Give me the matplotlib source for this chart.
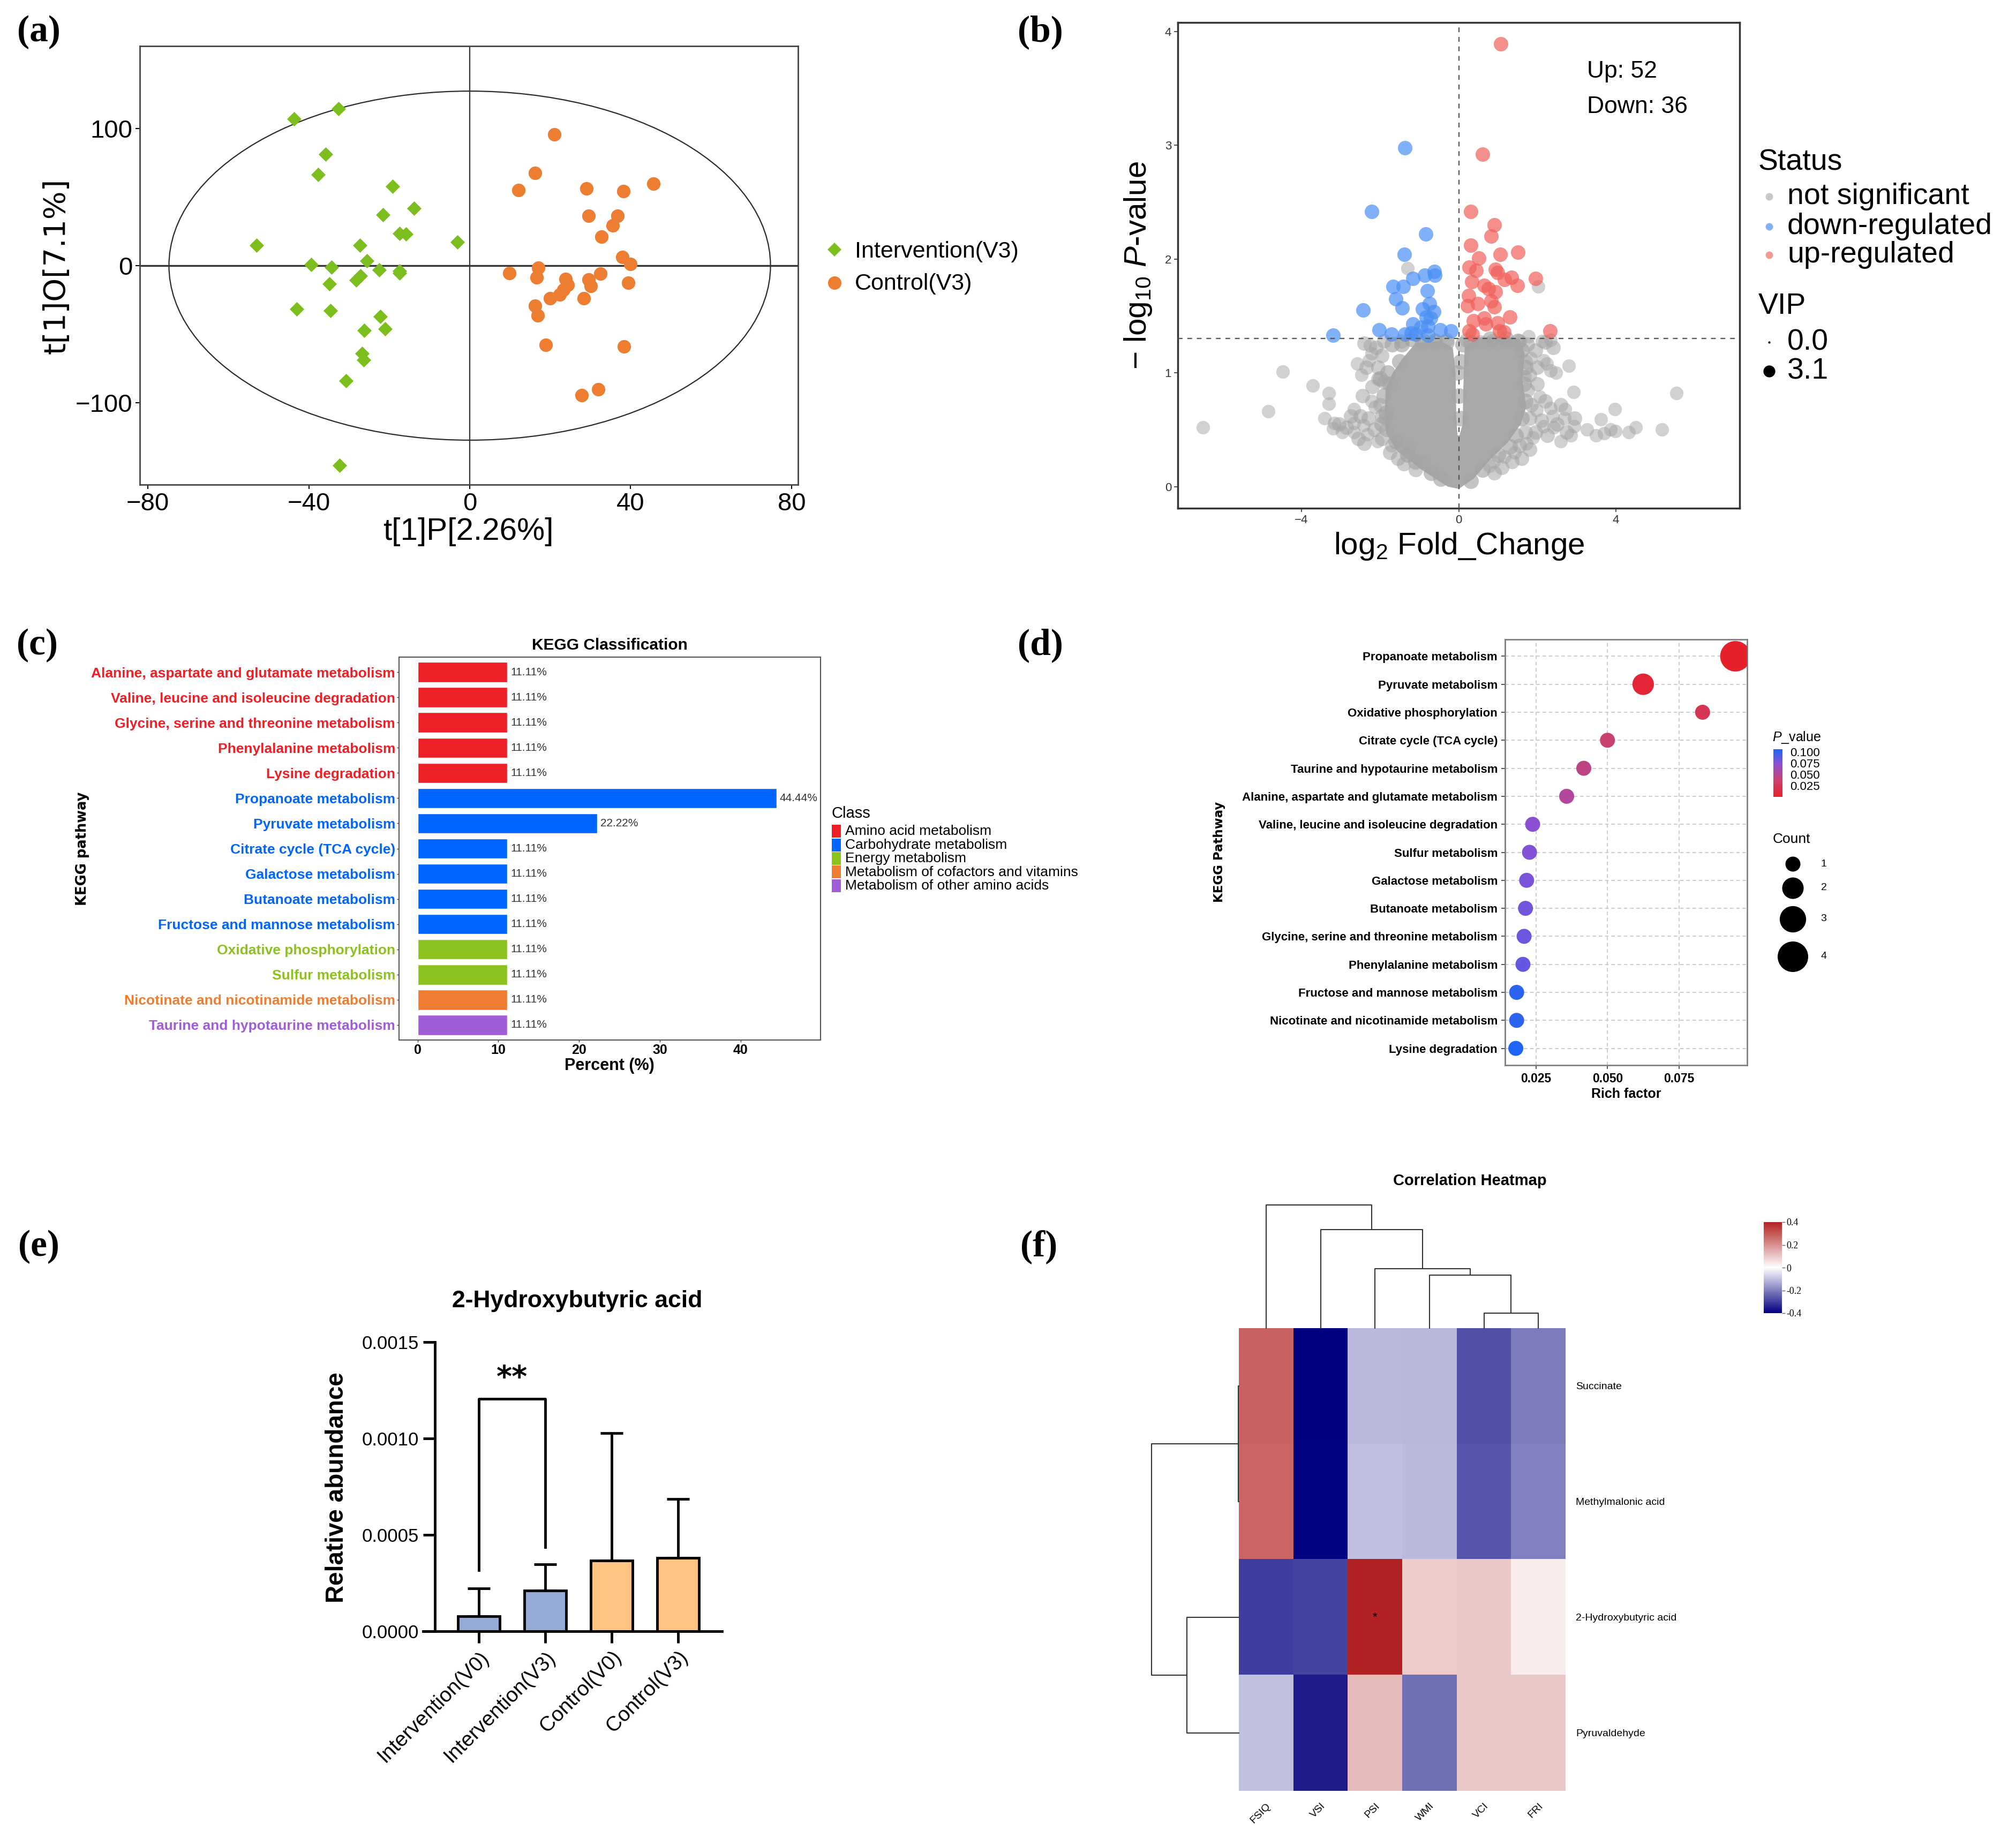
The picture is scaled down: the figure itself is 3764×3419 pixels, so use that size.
import numpy as np
import matplotlib.pyplot as plt
from matplotlib.colors import LinearSegmentedColormap, Normalize
from matplotlib.colorbar import ColorbarBase
from matplotlib.lines import Line2D
from matplotlib.patches import Ellipse, Rectangle

plt.rcParams['font.family'] = ['Liberation Sans', 'DejaVu Sans']
plt.rcParams['mathtext.fontset'] = 'custom'
plt.rcParams['mathtext.rm'] = 'Liberation Sans'
plt.rcParams['mathtext.it'] = 'Liberation Sans:italic'

W, H = 3764, 3419

"""
Data
"""
# (a) OPLS-DA scores
intv_x = [-43.7, -32.6, -35.8, -37.7, -19.2, -21.5, -13.9, -17.4, -15.9, -3.1, -53.0, -27.3, -25.5, -39.4, -34.3,
          -22.5, -17.5, -17.5, -27.2, -28.2, -34.9, -43.0, -34.6, -22.2, -26.2, -21.0, -26.7, -26.3, -30.8, -32.3]
intv_y = [107.0, 114.3, 81.2, 66.2, 57.8, 37.0, 41.8, 23.4, 22.9, 17.3, 14.7, 14.7, 3.4, 0.8, -1.3,
          -3.2, -3.9, -5.5, -7.4, -10.5, -13.4, -31.8, -32.9, -37.1, -47.3, -46.0, -63.9, -68.6, -83.8, -145.6]
ctrl_x = [21.0, 16.2, 12.1, 29.0, 38.2, 45.7, 29.5, 36.8, 35.6, 32.8, 37.9, 39.9, 9.9, 17.1, 16.6, 23.8,
          24.3, 23.3, 22.4, 20.0, 29.5, 30.1, 32.5, 28.3, 39.4, 16.2, 16.9, 18.9, 38.4, 32.0, 27.8]
ctrl_y = [95.7, 67.5, 54.9, 56.2, 54.4, 59.9, 36.5, 36.5, 29.4, 21.0, 6.3, 1.3, -5.3, -1.6, -8.7, -9.7,
          -13.9, -17.6, -21.0, -23.9, -10.0, -14.7, -6.0, -23.7, -12.4, -29.2, -36.3, -57.6, -59.1, -90.1, -94.6]

# (b) volcano
down_x = [-1.37, -2.22, -0.84, -1.39, -0.62, -0.60, -0.86, -1.17, -1.67, -1.41, -0.80, -1.60, -1.44, -0.74, -0.92, -0.64,
          -0.83, -0.71, -2.44, -2.02, -1.17, -0.96, -0.78, -0.47, -0.20, -3.19, -1.71, -1.37, -1.21, -1.10, -0.79]
down_y = [2.98, 2.42, 2.22, 2.04, 1.89, 1.86, 1.86, 1.83, 1.76, 1.76, 1.72, 1.65, 1.57, 1.61, 1.56, 1.54,
          1.49, 1.48, 1.55, 1.38, 1.43, 1.40, 1.41, 1.38, 1.37, 1.33, 1.34, 1.34, 1.35, 1.34, 1.33]
up_x = [1.07, 0.61, 0.30, 0.91, 0.83, 0.30, 1.06, 1.50, 0.51, 0.26, 0.44, 0.94, 0.99, 1.34, 1.17, 1.49, 1.95, 0.33,
        0.65, 0.76, 0.94, 0.25, 0.48, 0.22, 0.83, 0.90, 0.65, 0.38, 1.30, 0.69, 0.99, 0.26, 0.35, 1.04, 1.15, 2.33]
up_y = [3.89, 2.92, 2.42, 2.30, 2.20, 2.12, 2.04, 2.06, 2.01, 1.93, 1.90, 1.91, 1.88, 1.84, 1.82, 1.77, 1.83, 1.80,
        1.77, 1.74, 1.71, 1.68, 1.61, 1.59, 1.63, 1.58, 1.48, 1.46, 1.49, 1.43, 1.44, 1.37, 1.34, 1.37, 1.36, 1.37]
ns_x = [-6.51, -4.84, -4.48, -3.71, -3.31, -3.31, -3.42, -3.17, -3.20, -2.97, -2.67, -2.67, -2.67, -2.42,
        -2.33, -2.07, -2.22, -2.14, -2.58, -2.47, -2.29, -2.25, -2.22, -2.06, -1.87, -1.71, -1.26, -0.89,
        5.54, 5.17, 4.50, 4.33, 3.97, 3.99, 3.86, 3.70, 3.49, 3.26, 3.62, 2.92, 2.94, 2.80, 2.71, 2.69, 2.60,
        2.85, 2.48, 2.34, 2.34, 2.39, 2.42, 2.16, 2.24, 2.16, 2.07, 1.89, 1.84, 1.78, 2.12, 2.34, 1.69, 1.98,
        1.72, 1.43, 1.16, 0.79, 0.89, -1.30, 2.03]
ns_y = [0.52, 0.66, 1.01, 0.89, 0.82, 0.73, 0.60, 0.56, 0.51, 0.48, 0.68, 0.56, 0.48, 0.54,
        0.46, 0.40, 0.75, 0.70, 1.08, 0.98, 1.11, 1.24, 1.17, 0.95, 0.60, 0.36, 0.34, 0.22,
        0.82, 0.50, 0.52, 0.48, 0.68, 0.49, 0.50, 0.47, 0.45, 0.50, 0.59, 0.83, 0.53, 1.06, 0.68, 0.60, 0.40,
        0.45, 1.00, 1.02, 0.69, 0.62, 0.52, 1.11, 1.08, 0.53, 0.79, 0.43, 1.13, 1.32, 1.28, 1.29, 0.97, 0.67,
        0.38, 0.30, 0.26, 0.18, 0.22, 1.92, 1.76]
band_x = [-2.40, -2.10, -1.95, -2.35, -2.05, -1.90, -2.20, -2.45, -2.00, -1.95, -2.30, -2.50, -1.85, -2.15,
          -1.95, -1.75, -1.55, -1.40, -1.10, -2.75, -2.85, -3.05, -2.55, -2.40,
          1.75, 1.95, 1.70, 2.00, 1.80, 1.75, 2.00, 1.85, 2.20, 1.80, 2.10, 1.70, 1.95, 2.25,
          1.55, 1.80, 1.35, 1.10, 2.50, 2.60, 2.75, 2.95, 1.60, 0.90,
          -0.30, -0.60, -0.95, -1.45, -1.90, 0.20, 0.55, 0.85, 1.20, 1.55, 2.20, 2.40]
band_y = [1.26, 1.22, 1.15, 1.05, 1.05, 0.92, 0.88, 0.80, 0.72, 0.62, 0.60, 0.62, 0.50, 0.50,
          0.42, 0.30, 0.25, 0.20, 0.15, 0.62, 0.52, 0.55, 0.42, 0.38,
          1.25, 1.20, 1.10, 1.05, 0.98, 0.85, 0.90, 0.72, 0.75, 0.60, 0.58, 0.48, 0.48, 0.45,
          0.36, 0.33, 0.22, 0.17, 0.55, 0.72, 0.48, 0.60, 0.25, 0.12,
          1.29, 1.27, 1.27, 1.28, 1.28, 1.29, 1.27, 1.28, 1.27, 1.28, 1.27, 1.22]
edge_x = [-1.75, -1.90, -1.85, -1.95, -1.60, -1.30, -1.10, -0.70, -0.45, -1.50, -1.80, -2.00, -1.20, -0.90,
          -0.60, -0.30, -1.45, -1.70, 1.60, 1.70, 1.65, 1.70, 1.60, 1.45, 1.30, 1.00, 0.60, 0.30, 1.50, 1.20,
          0.80, 0.30, 0.10, 0.00, -0.02, 0.03, 0.05]
edge_y = [0.90, 0.80, 0.65, 0.55, 0.40, 0.28, 0.22, 0.12, 0.07, 1.10, 1.00, 0.95, 1.30, 1.28,
          1.28, 1.27, 1.25, 1.25, 1.20, 1.05, 0.90, 0.75, 0.60, 0.45, 0.35, 0.28, 0.15, 0.05, 1.28, 1.30,
          1.30, 1.27, 1.25, 0.80, 1.00, 0.60, 1.10]
# outline of the dense non-significant core
core_x = [0.0, 0.38, 0.78, 1.25, 1.58, 1.72, 1.62, 1.68, 1.55, 1.00, 0.45, 0.15, 0.12, 0.10, 0.02, -0.03,
          -0.06, -0.08, -0.15, -0.45, -1.10, -1.42, -1.68, -1.86, -1.88, -1.85, -1.56, -0.95, -0.28]
core_y = [-0.02, 0.07, 0.23, 0.39, 0.55, 0.70, 0.94, 1.17, 1.30, 1.32, 1.31, 1.22, 0.90, 0.55, 0.45, 0.45,
          0.60, 1.00, 1.22, 1.28, 1.26, 1.13, 1.00, 0.86, 0.62, 0.47, 0.31, 0.15, 0.0]
n_up, n_down = 52, 36

# (c) KEGG classification
kegg_paths = ['Alanine, aspartate and glutamate metabolism', 'Valine, leucine and isoleucine degradation',
              'Glycine, serine and threonine metabolism', 'Phenylalanine metabolism', 'Lysine degradation',
              'Propanoate metabolism', 'Pyruvate metabolism', 'Citrate cycle (TCA cycle)',
              'Galactose metabolism', 'Butanoate metabolism', 'Fructose and mannose metabolism',
              'Oxidative phosphorylation', 'Sulfur metabolism', 'Nicotinate and nicotinamide metabolism',
              'Taurine and hypotaurine metabolism']
kegg_pct = [11.11, 11.11, 11.11, 11.11, 11.11, 44.44, 22.22, 11.11, 11.11, 11.11, 11.11, 11.11, 11.11, 11.11, 11.11]
kegg_class = [0, 0, 0, 0, 0, 1, 1, 1, 1, 1, 1, 2, 2, 3, 4]
class_names = ['Amino acid metabolism', 'Carbohydrate metabolism', 'Energy metabolism',
               'Metabolism of cofactors and vitamins', 'Metabolism of other amino acids']
class_colors = ['#EE2027', '#0066FF', '#8CC21E', '#EE7D31', '#A15CD8']

# (d) enrichment
enr_paths = ['Propanoate metabolism', 'Pyruvate metabolism', 'Oxidative phosphorylation', 'Citrate cycle (TCA cycle)',
             'Taurine and hypotaurine metabolism', 'Alanine, aspartate and glutamate metabolism',
             'Valine, leucine and isoleucine degradation', 'Sulfur metabolism', 'Galactose metabolism',
             'Butanoate metabolism', 'Glycine, serine and threonine metabolism', 'Phenylalanine metabolism',
             'Fructose and mannose metabolism', 'Nicotinate and nicotinamide metabolism', 'Lysine degradation']
rich_factor = [0.0948, 0.0625, 0.0833, 0.0500, 0.0417, 0.0357, 0.0238, 0.0227, 0.0217, 0.0213, 0.0208, 0.0204,
               0.0182, 0.0182, 0.0179]
enr_count = [4, 2, 1, 1, 1, 1, 1, 1, 1, 1, 1, 1, 1, 1, 1]
enr_p = [0.001, 0.006, 0.022, 0.037, 0.045, 0.053, 0.074, 0.076, 0.079, 0.081, 0.083, 0.085, 0.101, 0.101, 0.105]

# (e) 2-hydroxybutyric acid
groups = ['Intervention(V0)', 'Intervention(V3)', 'Control(V0)', 'Control(V3)']
abund_mean = [7.9e-5, 2.125e-4, 3.67e-4, 3.81e-4]
abund_sd = [1.44e-4, 1.355e-4, 6.60e-4, 3.04e-4]
group_colors = ['#96AAD6', '#96AAD6', '#FFC381', '#FFC381']

# (f) correlation heatmap
metabolites = ['Succinate', 'Methylmalonic acid', '2-Hydroxybutyric acid', 'Pyruvaldehyde']
indices = ['FSIQ', 'VSI', 'PSI', 'WMI', 'VCI', 'FRI']
corr_succ = [0.29, -0.41, -0.11, -0.115, -0.28, -0.21]
corr_meth = [0.285, -0.405, -0.105, -0.11, -0.275, -0.205]
corr_2hb = [-0.31, -0.30, 0.41, 0.095, 0.10, 0.035]
corr_pyr = [-0.10, -0.365, 0.125, -0.23, 0.10, 0.10]
col_merge_a = [4, 3, 2, 1, 0]
col_merge_b = [5, 6, 7, 8, 9]
col_merge_h = [28.5, 99.3, 110.7, 184.7, 230.3]
row_merge_a = [0, 2, 4]
row_merge_b = [1, 3, 5]
row_merge_h = [1.5, 97.5, 163.0]


"""
Helpers
"""
def fbox(x0, y0, x1, y1):
    # pixel box, origin top-left -> figure rect
    return [x0 / W, 1 - y1 / H, (x1 - x0) / W, (y1 - y0) / H]


def ftext(x, y, s, **kw):
    kw.setdefault('ha', 'center')
    kw.setdefault('va', 'center')
    return fig.text(x / W, 1 - y / H, s, **kw)


def fmark(x, y, **kw):
    fig.add_artist(Line2D([x / W], [1 - y / H], transform=fig.transFigure, ls='none', **kw))


def draw_dendro(ax, ma, mb, mh, n, side):
    pos = {i: float(i) for i in range(n)}
    hgt = {i: 0.0 for i in range(n)}
    for k in range(len(ma)):
        a, b, h = ma[k], mb[k], mh[k]
        xs = [pos[a], pos[a], pos[b], pos[b]]
        ys = [hgt[a], h, h, hgt[b]]
        if side == 'top':
            ax.plot(xs, ys, color='#333333', lw=1.5, clip_on=False)
        else:
            ax.plot(ys, xs, color='#333333', lw=1.5, clip_on=False)
        pos[n + k] = (pos[a] + pos[b]) / 2.0
        hgt[n + k] = h


fig = plt.figure(figsize=(W / 100, H / 100), dpi=100)

"""
(a)
"""
ax_a = fig.add_axes(fbox(261, 86, 1490, 905))
ax_a.add_patch(Ellipse((0, 0), 149.5, 254.5, fill=False, ec='#2b2b2b', lw=1.6))
ax_a.axhline(0, color='#333333', lw=2.4)
ax_a.axvline(0, color='#333333', lw=1.6)
ax_a.scatter(intv_x, intv_y, marker='D', s=190, color='#7DBE1F', lw=0, zorder=3)
ax_a.scatter(ctrl_x, ctrl_y, marker='o', s=330, color='#ED7D31', lw=0, zorder=3)
ax_a.set_xlim(-82, 81.6)
ax_a.set_ylim(-159.7, 160.1)
ax_a.set_xticks([-80, -40, 0, 40, 80])
ax_a.set_yticks([-100, 0, 100])
ax_a.tick_params(labelsize=34, length=6, width=1.5, pad=4)
for sp in ax_a.spines.values():
    sp.set_linewidth(2)
    sp.set_color('#444444')
ftext(874, 993, 't[1]P[2.26%]', fontsize=42)
ftext(106, 497, 't[1]O[7.1%]', fontsize=40, rotation=90, family='DejaVu Sans')
fmark(1558, 466, marker='D', ms=13, color='#7DBE1F', mew=0)
fmark(1558, 528, marker='o', ms=18, color='#ED7D31', mew=0)
ftext(1596, 470, 'Intervention(V3)', fontsize=31, ha='left')
ftext(1596, 530, 'Control(V3)', fontsize=31, ha='left')

"""
(b)
"""
ax_b = fig.add_axes(fbox(2199, 42, 3248, 949))
ax_b.fill(core_x, core_y, color='#A9A9A9', lw=0, zorder=1)
ax_b.scatter(edge_x, edge_y, s=440, color='#A4A4A4', alpha=0.65, lw=0, zorder=2)
ax_b.scatter(band_x, band_y, s=380, color='#A4A4A4', alpha=0.55, lw=0, zorder=2)
ax_b.scatter(ns_x, ns_y, s=330, color='#A4A4A4', alpha=0.5, lw=0, zorder=2)
ax_b.scatter(down_x, down_y, s=380, color='#4A8FF5', alpha=0.7, lw=0, zorder=3)
ax_b.scatter(up_x, up_y, s=380, color='#F0605A', alpha=0.7, lw=0, zorder=3)
ax_b.axvline(0, ls=(0, (4, 4)), color='#555555', lw=1.6, zorder=4)
ax_b.axhline(-np.log10(0.05), ls=(0, (4, 4)), color='#555555', lw=1.6, zorder=4)
ax_b.text(3.26, 3.65, 'Up: %d' % n_up, fontsize=32, va='center')
ax_b.text(3.26, 3.34, 'Down: %d' % n_down, fontsize=32, va='center')
ax_b.set_xlim(-7.15, 7.15)
ax_b.set_ylim(-0.19, 4.08)
ax_b.set_xticks([-4, 0, 4])
ax_b.set_yticks([0, 1, 2, 3, 4])
ax_b.tick_params(labelsize=16, length=5, width=1.2, colors='#333333')
for sp in ax_b.spines.values():
    sp.set_linewidth(2.5)
    sp.set_color('#333333')
ftext(2724, 1020, 'log$_2$ Fold_Change', fontsize=42)
ftext(2125, 495, r'$-$ log$_{10}$ $\it{P}$-value', fontsize=42, rotation=90)
ftext(3283, 303, 'Status', fontsize=40, ha='left')
for yy, cc, tt in zip([367, 423, 476], ['#C8C8C8', '#7FB0F8', '#F49A95'],
                      ['not significant', 'down-regulated', 'up-regulated']):
    fmark(3303, yy, marker='o', ms=10, color=cc, mew=0)
    ftext(3337, yy, tt, fontsize=40, ha='left')
ftext(3283, 572, 'VIP', fontsize=40, ha='left')
fmark(3303, 639, marker='o', ms=3, color='black', mew=0)
fmark(3303, 693, marker='o', ms=16, color='black', mew=0)
ftext(3337, 639, '0.0', fontsize=40, ha='left')
ftext(3337, 693, '3.1', fontsize=40, ha='left')

"""
(c)
"""
ax_c = fig.add_axes(fbox(745, 1227, 1532, 1942))
yc = np.arange(len(kegg_paths))
bar_cols = [class_colors[k] for k in kegg_class]
ax_c.barh(yc, kegg_pct, height=0.8, color=bar_cols, edgecolor='white', lw=1)
for i in range(len(kegg_pct)):
    ax_c.text(kegg_pct[i] + 0.4, yc[i], '%.2f%%' % kegg_pct[i], fontsize=15, va='center', color='#333333')
ax_c.set_ylim(len(kegg_paths) - 0.4, -0.6)
ax_c.set_xlim(-2.3, 49.9)
ax_c.set_yticks(yc)
ax_c.set_yticklabels(kegg_paths, fontsize=19, fontweight='bold')
for lbl, cc in zip(ax_c.get_yticklabels(), bar_cols):
    lbl.set_color(cc)
ax_c.set_xticks([0, 10, 20, 30, 40])
ax_c.set_xticklabels(['0', '10', '20', '30', '40'], fontsize=18, fontweight='bold')
ax_c.tick_params(length=3, width=1, pad=2, color='#333333')
for sp in ax_c.spines.values():
    sp.set_linewidth(1.5)
    sp.set_color('#555555')
ftext(1138, 1205, 'KEGG Classification', fontsize=21.5, fontweight='bold')
ftext(1138, 1990, 'Percent (%)', fontsize=22, fontweight='bold')
ftext(154, 1585, 'KEGG pathway', fontsize=18.5, fontweight='bold', rotation=90, family='DejaVu Sans')
ftext(1553, 1519, 'Class', fontsize=21, ha='left')
for k in range(len(class_names)):
    yy = 1552 + 25.5 * k
    fig.add_artist(Rectangle(((1553) / W, 1 - (yy + 12) / H), 17 / W, 24 / H,
                             transform=fig.transFigure, color=class_colors[k], lw=0))
    ftext(1578, yy, class_names[k], fontsize=19, ha='left')

"""
(d)
"""
p_cmap = LinearSegmentedColormap.from_list('pv', [(0.0, '#E8202A'), (0.35, '#C8426E'), (0.5, '#B2479A'),
                                                  (0.7, '#8A50D4'), (1.0, '#1A66F5')])
p_norm = Normalize(0.0, 0.106)


def count_size(c):
    return 0.5184 * (784 + 822 * (np.asarray(c) - 1))


ax_d = fig.add_axes(fbox(2810, 1194, 3262, 1989))
yd = np.arange(len(enr_paths))
ax_d.scatter(rich_factor, yd, s=count_size(enr_count), c=enr_p, cmap=p_cmap, norm=p_norm, lw=0, zorder=3)
ax_d.set_xlim(0.01413, 0.0989)
ax_d.set_ylim(len(enr_paths) - 0.4, -0.6)
ax_d.set_yticks(yd)
ax_d.set_yticklabels(enr_paths, fontsize=16, fontweight='bold')
ax_d.set_xticks([0.025, 0.050, 0.075])
ax_d.set_xticklabels(['0.025', '0.050', '0.075'], fontsize=16.5, fontweight='bold')
ax_d.tick_params(length=5, width=1.2, pad=5, color='#333333')
ax_d.grid(True, ls=(0, (4, 3)), color='#C4C4C4', lw=1.2, zorder=0)
ax_d.set_axisbelow(True)
for sp in ax_d.spines.values():
    sp.set_linewidth(2)
    sp.set_color('#808080')
ftext(3036, 2043, 'Rich factor', fontsize=18, fontweight='bold')
ftext(2277, 1591, 'KEGG Pathway', fontsize=16.5, fontweight='bold', rotation=90, family='DejaVu Sans')
ftext(3309, 1377, r'$\it{P}$_value', fontsize=18, ha='left')
cax_d = fig.add_axes(fbox(3311, 1399, 3328, 1488))
cb_d = ColorbarBase(cax_d, cmap=p_cmap, norm=p_norm, ticks=[0.025, 0.050, 0.075, 0.100])
cb_d.outline.set_visible(False)
cax_d.set_yticklabels(['0.025', '0.050', '0.075', '0.100'])
cax_d.tick_params(length=0, labelsize=16, pad=10)
ftext(3310, 1567, 'Count', fontsize=19, ha='left')
for c_val, yy in zip([1, 2, 3, 4], [1613, 1658, 1716, 1786]):
    fmark(3347, yy, marker='o', ms=np.sqrt(count_size(c_val)), color='black', mew=0)
    ftext(3405, yy, str(c_val), fontsize=14, ha='center')

"""
(e)
"""
ax_e = fig.add_axes(fbox(790, 2506, 1348, 3046))
xe = np.arange(len(groups))
ax_e.bar(xe, abund_mean, width=0.63, color=group_colors, edgecolor='black', lw=3.5, zorder=2)
ax_e.errorbar(xe, abund_mean, yerr=[np.zeros(len(xe)), abund_sd], fmt='none', ecolor='black',
              elinewidth=3.5, capsize=15, capthick=3.5, zorder=1)
ax_e.plot([0, 0, 1, 1], [3.17e-4, 1.206e-3, 1.206e-3, 4.35e-4], color='black', lw=3.5)
ax_e.text(0.5, 1.235e-3, '**', fontsize=40, fontweight='bold', ha='center', va='bottom', family='DejaVu Sans')
ax_e.set_xlim(-0.84, 3.66)
ax_e.set_ylim(0, 0.0015)
ax_e.spines['top'].set_visible(False)
ax_e.spines['right'].set_visible(False)
ax_e.spines['left'].set_position(('data', -0.66))
for sp in ['left', 'bottom']:
    ax_e.spines[sp].set_linewidth(3.5)
ax_e.set_yticks([0, 0.0005, 0.0010, 0.0015])
ax_e.set_yticklabels(['0.0000', '0.0005', '0.0010', '0.0015'], fontsize=25)
ax_e.set_xticks(xe)
ax_e.set_xticklabels(groups, fontsize=28, rotation=45, ha='right', rotation_mode='anchor')
ax_e.tick_params(length=16, width=3.5, pad=6)
ftext(1078, 2430, '2-Hydroxybutyric acid', fontsize=32, fontweight='bold')
ftext(629, 2778, 'Relative abundance', fontsize=33, fontweight='bold', rotation=90)

"""
(f)
"""
corr = np.array([corr_succ, corr_meth, corr_2hb, corr_pyr])
hm_cmap = LinearSegmentedColormap.from_list('hm', ['#000080', '#FFFFFF', '#B22222'])
hm_norm = Normalize(-0.41, 0.41)
ax_f = fig.add_axes(fbox(2313, 2480, 2923, 3344))
ax_f.imshow(corr, cmap=hm_cmap, norm=hm_norm, aspect='auto', interpolation='nearest',
            extent=(-0.5, 5.5, 3.5, -0.5))
ax_f.text(2, 2, '*', fontsize=16, ha='center', va='center')
ax_f.set_xticks(np.arange(len(indices)))
ax_f.set_xticklabels(indices, fontsize=14, rotation=45, ha='right', rotation_mode='anchor')
ax_f.set_yticks(np.arange(len(metabolites)))
ax_f.set_yticklabels(metabolites, fontsize=14)
ax_f.yaxis.tick_right()
ax_f.tick_params(length=0, pad=14)
for sp in ax_f.spines.values():
    sp.set_visible(False)

ax_fc = fig.add_axes(fbox(2313, 2250, 2923, 2480))
draw_dendro(ax_fc, col_merge_a, col_merge_b, col_merge_h, len(indices), 'top')
ax_fc.set_xlim(-0.5, 5.5)
ax_fc.set_ylim(0, 230.3)
ax_fc.axis('off')

ax_fr = fig.add_axes(fbox(2150, 2480, 2313, 3344))
draw_dendro(ax_fr, row_merge_a, row_merge_b, row_merge_h, len(metabolites), 'left')
ax_fr.set_xlim(163.0, 0)
ax_fr.set_ylim(3.5, -0.5)
ax_fr.axis('off')

cax_f = fig.add_axes(fbox(3293, 2282, 3327, 2452))
cb_f = ColorbarBase(cax_f, cmap=hm_cmap, norm=Normalize(-0.4, 0.4), ticks=[-0.4, -0.2, 0, 0.2, 0.4])
cb_f.outline.set_visible(False)
cax_f.set_yticklabels(['-0.4', '-0.2', '0', '0.2', '0.4'], family='Liberation Serif')
cax_f.tick_params(length=4, width=1, labelsize=13, pad=2, color='#666666')
ftext(2744, 2205, 'Correlation Heatmap', fontsize=21, fontweight='bold')

"""
Panel tags
"""
for tag, (tx, ty) in zip(['(a)', '(b)', '(c)', '(d)', '(e)', '(f)'],
                         [(72, 60), (1942, 60), (70, 1205), (1942, 1205), (72, 2328), (1940, 2328)]):
    ftext(tx, ty, tag, fontsize=50, family='Liberation Serif', fontweight='bold')

fig.savefig('out.png', dpi=100)
